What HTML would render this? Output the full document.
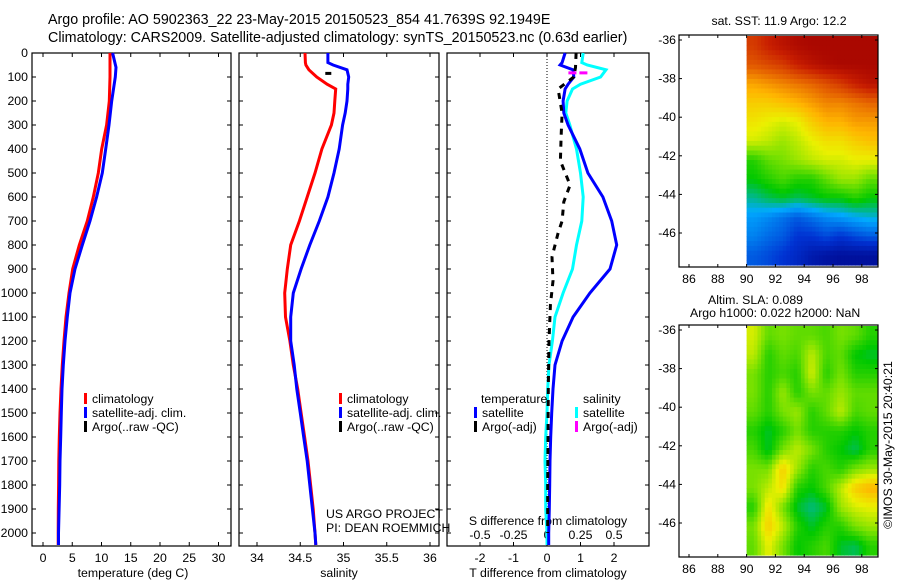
<!DOCTYPE html>
<html><head><meta charset="utf-8">
<style>
body{margin:0;background:#fff;}
svg{display:block;font-family:"Liberation Sans",sans-serif;}
text{fill:#000;}
</style></head>
<body>
<svg id="c" width="900" height="580" viewBox="0 0 900 580"></svg>
<script>
// ---- data ----
const depthT = [0,60,100,200,300,400,500,600,700,800,900,1000,1100,1200,1300,1400,1500,1600,1700,1800,1900,2000,2050];
const tempClim = [11.45,11.45,11.45,11.34,10.88,10.03,9.46,8.6,7.58,6.2,5.07,4.45,3.93,3.59,3.3,3.08,2.9,2.79,2.7,2.66,2.62,2.6,2.6];
const tempSat  = [11.9,12.48,12.36,11.74,11.28,10.71,10.14,9.17,8.03,6.72,5.47,4.62,4.16,3.76,3.47,3.25,3.13,3.03,2.9,2.85,2.75,2.65,2.65];
const depthS = [0,40,50,70,100,130,150,200,250,300,400,500,600,700,800,900,1000,1100,1200,1300,1400,1500,1600,1700,1800,1900,2000,2050];
const salClim = [34.555,34.56,34.565,34.6,34.69,34.81,34.91,34.9,34.89,34.86,34.75,34.67,34.58,34.49,34.39,34.35,34.32,34.33,34.38,34.42,34.47,34.51,34.55,34.59,34.62,34.65,34.67,34.68];
const salSat  = [34.82,34.82,34.88,35.04,35.06,35.05,35.05,35.04,35.02,34.99,34.95,34.89,34.82,34.72,34.61,34.51,34.42,34.39,34.39,34.43,34.46,34.5,34.54,34.58,34.61,34.64,34.67,34.68];
const argoSDepth = [85,85];
const argoSVal = [34.79,34.88];
const dTSat = [0.54,0.45,0.39,0.78,0.8,0.63,0.54,0.48,0.5,0.63,0.98,1.22,1.67,1.93,2.08,1.88,1.28,0.78,0.45,0.24,0.18,0.14,0.11,0.09,0.08,0.07,0.05,0.05];
const dSSat = [0.27,0.26,0.3,0.44,0.4,0.25,0.19,0.15,0.14,0.17,0.22,0.25,0.27,0.26,0.22,0.19,0.12,0.06,0.04,0.015,0.005,0,-0.01,-0.015,-0.01,-0.01,0,0];
const argoTDepth = [0,60,100,150,250,350,450,550,620,700,750,850,950,1050,1200,1400,1600,1800,2000];
const argoTVal = [0.87,0.85,0.8,0.33,0.45,0.42,0.4,0.69,0.5,0.45,0.33,0.15,0.18,0.1,0.06,0.04,0.03,0.02,0.02];
const argoSdDepth = [83,83];
const argoSdVal = [0.16,0.31];
const tTicks = [0,5,10,15,20,25,30];
const sTicks = [34,34.5,35,35.5,36];
const sTickLabels = ["34","34.5","35","35.5","36"];
const dtTicks = [-2,-1,0,1,2];
const dsTicks = [-0.5,-0.25,0,0.25,0.5];
const dsTickLabels = ["-0.5","-0.25","0","0.25","0.5"];
const depthTicks = [0,100,200,300,400,500,600,700,800,900,1000,1100,1200,1300,1400,1500,1600,1700,1800,1900,2000];
const lonTicks = [86,88,90,92,94,96,98];
const latTicks = [-36,-38,-40,-42,-44,-46];
const sstGrid = [
[0.88,0.92,0.95,0.97,0.98,0.98,0.98,0.98,0.98],
[0.84,0.86,0.88,0.92,0.95,0.97,0.98,0.98,0.98],
[0.74,0.76,0.78,0.8,0.82,0.85,0.88,0.92,0.95],
[0.68,0.68,0.7,0.72,0.75,0.78,0.78,0.8,0.82],
[0.64,0.62,0.6,0.62,0.68,0.72,0.72,0.75,0.75],
[0.6,0.58,0.55,0.58,0.62,0.65,0.65,0.68,0.7],
[0.45,0.5,0.52,0.55,0.58,0.6,0.6,0.62,0.62],
[0.42,0.45,0.48,0.45,0.45,0.5,0.55,0.55,0.5],
[0.35,0.38,0.4,0.38,0.4,0.42,0.42,0.45,0.42],
[0.28,0.26,0.23,0.2,0.23,0.26,0.28,0.3,0.32],
[0.25,0.22,0.2,0.15,0.15,0.18,0.15,0.18,0.2],
[0.2,0.18,0.15,0.12,0.08,0.06,0.05,0.05,0.05]];
const slaGrid = [
[0.6,0.5,0.52,0.5,0.5,0.48,0.52,0.5,0.45],
[0.58,0.45,0.5,0.48,0.58,0.48,0.5,0.42,0.4],
[0.52,0.45,0.48,0.45,0.6,0.45,0.52,0.45,0.45],
[0.52,0.45,0.55,0.45,0.52,0.5,0.55,0.5,0.5],
[0.5,0.45,0.52,0.55,0.45,0.5,0.58,0.48,0.5],
[0.45,0.4,0.45,0.52,0.45,0.45,0.45,0.42,0.45],
[0.48,0.4,0.52,0.58,0.52,0.45,0.42,0.38,0.45],
[0.52,0.52,0.68,0.55,0.45,0.48,0.45,0.52,0.55],
[0.52,0.58,0.65,0.45,0.42,0.48,0.58,0.68,0.72],
[0.45,0.65,0.52,0.4,0.36,0.4,0.55,0.6,0.62],
[0.52,0.68,0.58,0.45,0.4,0.45,0.45,0.52,0.55],
[0.5,0.62,0.52,0.42,0.45,0.48,0.4,0.38,0.45]];

// ---- helpers ----
const svg = document.getElementById('c');
const NS = 'http://www.w3.org/2000/svg';
function mk(tag, attrs, parent){const e=document.createElementNS(NS,tag);for(const k in attrs)e.setAttribute(k,attrs[k]);(parent||svg).appendChild(e);return e;}
function txt(x,y,s,anchor,size,parent){const t=mk('text',{x:x,y:y,'font-size':size||12,'text-anchor':anchor||'start'},parent);t.textContent=s;return t;}
const Y0=53, YS=0.24;
const yD = d => Y0 + d*YS;
const xT = v => 43 + v*5.85;
const xS = v => 257 + (v-34)*86.5;
const xdT = v => 547 + v*33.5;
const xdS = v => 547 + v*134;

function line(xs, ds, fx, color, w, dash, name){
  let p = xs.map((v,i)=>(i?'L':'M')+fx(v).toFixed(1)+','+yD(ds[i]).toFixed(1)).join('');
  const e = mk('path',{d:p,fill:'none',stroke:color,'stroke-width':w,'stroke-dasharray':dash||'none'});
  
  
  return e;
}
function frame(x0,x1,name){
  const r = mk('rect',{x:x0,y:Y0,width:x1-x0,height:546-Y0,fill:'none',stroke:'#000','stroke-width':1.2});
  
  
  depthTicks.forEach(d=>{mk('line',{x1:x0,x2:x0+4,y1:yD(d),y2:yD(d),stroke:'#000'});mk('line',{x1:x1-4,x2:x1,y1:yD(d),y2:yD(d),stroke:'#000'});});
}
function xticks(vals, fx, labels, ly, withTop){
  vals.forEach((v,i)=>{const x=fx(v);mk('line',{x1:x,x2:x,y1:546,y2:542,stroke:'#000'});if(withTop)mk('line',{x1:x,x2:x,y1:Y0,y2:Y0+4,stroke:'#000'});
    const t=txt(x,ly,labels[i],'middle',12.3);});
}

// titles
txt(48,24,'Argo profile: AO 5902363_22 23-May-2015 20150523_854 41.7639S 92.1949E','start',14.3);
txt(48,42,'Climatology: CARS2009. Satellite-adjusted climatology: synTS_20150523.nc (0.63d earlier)','start',14.3);

// panel 1
frame(32,231,'temperature-panel');
depthTicks.forEach(d=>{const t=txt(28,yD(d)+4,String(d),'end',12.3);});
xticks(tTicks,xT,tTicks.map(String),562,true);
txt(133,577,'temperature (deg C)','middle',12.3);
line(tempClim,depthT,xT,'#ff0000',3,null,'temp-climatology-line');
line(tempSat,depthT,xT,'#0000ff',3,null,'temp-satellite-line');
function legend(x,y,items,name){
  const g=mk('g',{});
  items.forEach((it,i)=>{mk('rect',{x:x,y:y+i*14-6,width:3,height:11,fill:it[0]},g);txt(x+8,y+i*14+4,it[1],'start',12.3,g);});
}
legend(84,399,[['#ff0000','climatology'],['#0000ff','satellite-adj. clim.'],['#000','Argo(..raw -QC)']],'temperature-legend');

// panel 2
frame(239,439,'salinity-panel');
xticks(sTicks,xS,sTickLabels,562,true);
txt(339,577,'salinity','middle',12.3);
line(salClim,depthS,xS,'#ff0000',3,null,'sal-climatology-line');
line(salSat,depthS,xS,'#0000ff',3,null,'sal-satellite-line');
line(argoSVal,argoSDepth,xS,'#000',3,'6,2','sal-argo-line');
legend(339,399,[['#ff0000','climatology'],['#0000ff','satellite-adj. clim.'],['#000','Argo(..raw -QC)']],'salinity-legend');
txt(326,518,'US ARGO PROJECT','start',12.3);
txt(326,532,'PI: DEAN ROEMMICH','start',12.3);

// panel 3
frame(447,649,'difference-panel');
mk('line',{x1:xdT(0),x2:xdT(0),y1:Y0,y2:546,stroke:'#000','stroke-dasharray':'1,2'});
xticks(dtTicks,xdT,dtTicks.map(String),562,false);
dtTicks.forEach(v=>mk('line',{x1:xdT(v),x2:xdT(v),y1:Y0,y2:Y0+4,stroke:'#000'}));
dsTicks.forEach((v,i)=>{const t=txt(xdS(v),539,dsTickLabels[i],'middle',12.3);});
txt(548,525,'S difference from climatology','middle',12.3);
txt(548,577,'T difference from climatology','middle',12.3);
line(dSSat,depthS,xdS,'#00ffff',3,null,'s-diff-satellite-line');
line(dTSat,depthS,xdT,'#0000ff',3,null,'t-diff-satellite-line');
line(argoTVal,argoTDepth,xdT,'#000',3,'6,6','t-diff-argo-line');
line(argoSdVal,argoSdDepth,xdS,'#ff00ff',3,'8,3','s-diff-argo-line');
txt(481,403,'temperature','start',12.3);
txt(583,403,'salinity','start',12.3);
legend(474,413,[['#0000ff','satellite'],['#000','Argo(-adj)']],'t-diff-legend');
legend(575,413,[['#00ffff','satellite'],['#ff00ff','Argo(-adj)']],'s-diff-legend');

// maps
const cmStops=[[0,0,0,130],[0.15,0,50,210],[0.3,0,170,255],[0.42,0,200,0],[0.52,120,225,0],[0.62,235,240,0],[0.72,255,180,0],[0.82,230,100,0],[0.92,200,30,0],[1,160,0,0]];
function cmap(v){v=Math.max(0,Math.min(1,v));
  for(let i=1;i<cmStops.length;i++){if(v<=cmStops[i][0]){const a=cmStops[i-1],b=cmStops[i],t=(v-a[0])/(b[0]-a[0]);
    return 'rgb('+[1,2,3].map(k=>Math.round(a[k]+(b[k]-a[k])*t)).join(',')+')';}}
  return 'rgb(160,0,0)';}
function map(top,bottom,grid,name,latTop){
  const x0=679,x1=878;
  const lx = lon => 689 + (lon-86)*14.4;
  const ly = lat => latTop + (-36-lat)*19.3;
  const g=mk('g',{});
  const rows=grid.length, cols=grid[0].length, sub=4;
  const gx0=lx(90), gx1=x1-1, gy0=top+1, gy1=bottom-2;
  const cw=(gx1-gx0)/(cols*sub), ch=(gy1-gy0)/(rows*sub);
  for(let r=0;r<rows*sub;r++)for(let c=0;c<cols*sub;c++){
    const fr=Math.min(rows-1,Math.max(0,(r+0.5)/sub-0.5)), fc=Math.min(cols-1,Math.max(0,(c+0.5)/sub-0.5));
    const r0=Math.floor(fr),c0=Math.floor(fc),r1=Math.min(rows-1,r0+1),c1=Math.min(cols-1,c0+1),a=fr-r0,b=fc-c0;
    const v=(grid[r0][c0]*(1-b)+grid[r0][c1]*b)*(1-a)+(grid[r1][c0]*(1-b)+grid[r1][c1]*b)*a;
    mk('rect',{x:(gx0+c*cw).toFixed(2),y:(gy0+r*ch).toFixed(2),width:(cw+0.6).toFixed(2),height:(ch+0.6).toFixed(2),fill:cmap(v)},g);
  }
  mk('rect',{x:x0,y:top,width:x1-x0,height:bottom-top,fill:'none',stroke:'#000','stroke-width':1.2},g);
  lonTicks.forEach(l=>{const x=lx(l);mk('line',{x1:x,x2:x,y1:bottom,y2:bottom-3,stroke:'#000'},g);mk('line',{x1:x,x2:x,y1:top,y2:top+3,stroke:'#000'},g);txt(x,bottom+16,String(l),'middle',12.3,g);});
  latTicks.forEach(l=>{const y=ly(l);mk('line',{x1:x0,x2:x0+3,y1:y,y2:y,stroke:'#000'},g);mk('line',{x1:x1,x2:x1-3,y1:y,y2:y,stroke:'#000'},g);txt(676,y+4,String(l),'end',12.3,g);});
}
map(35,267,sstGrid,'sst-map',40);
map(325,557,slaGrid,'sla-map',330);
txt(779,25,'sat. SST: 11.9 Argo: 12.2','middle',12.3);
txt(708,304,'Altim. SLA: 0.089','start',12.3);
txt(690,317,'Argo h1000: 0.022 h2000: NaN','start',12.3);
const cr=txt(0,0,'©IMOS 30-May-2015 20:40:21','middle',12.3);
cr.setAttribute('transform','translate(892,445) rotate(-90)');

</script>
</body></html>
